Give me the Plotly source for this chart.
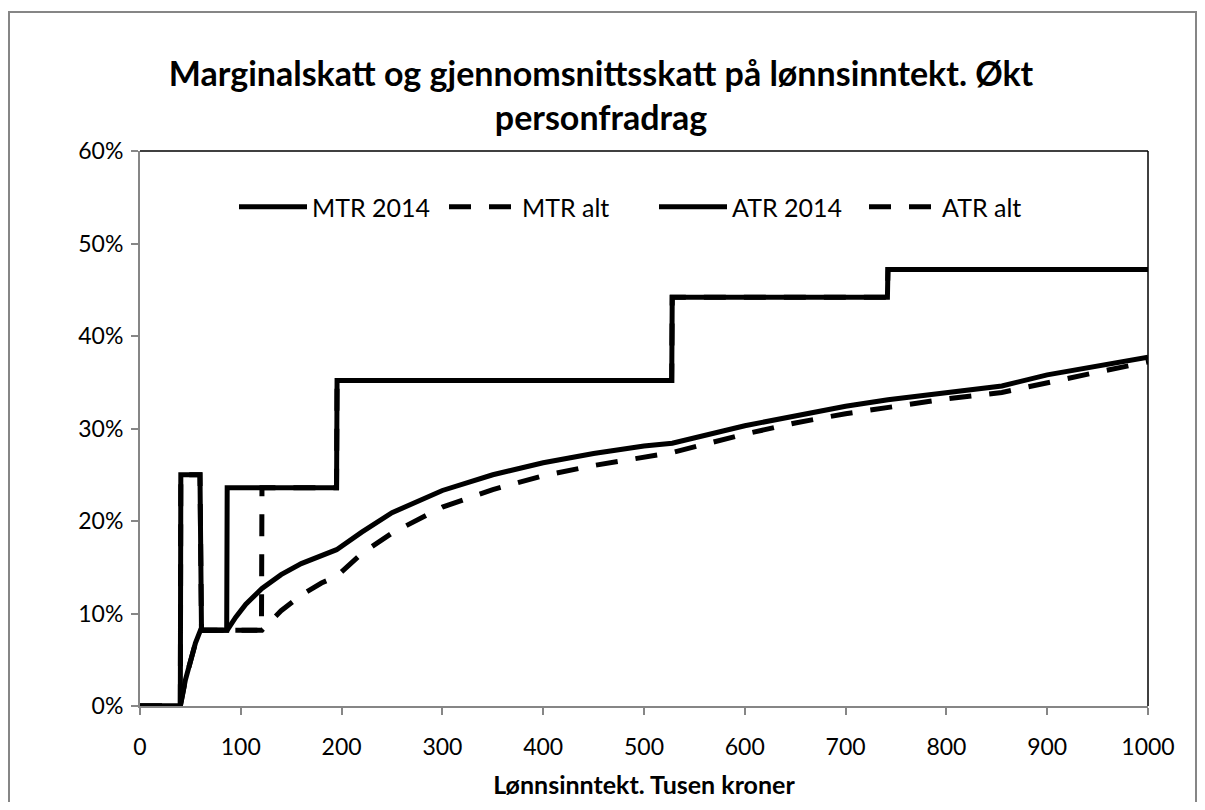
import plotly.graph_objects as go

# ---------------- data (percent) ----------------
mtr2014_x = [0, 40, 40.5, 59.5, 61, 86, 86.5, 195, 195.5, 527.5, 528, 741.5, 742, 1000]
mtr2014_y = [0, 0, 25.0, 25.0, 8.2, 8.2, 23.6, 23.6, 35.2, 35.2, 44.2, 44.2, 47.2, 47.2]

mtralt_x = [0, 40, 40.5, 59.5, 61, 120.5, 121, 195, 195.5, 527.5, 528, 741.5, 742, 1000]
mtralt_y = [0, 0, 25.0, 25.0, 8.2, 8.2, 23.6, 23.6, 35.2, 35.2, 44.2, 44.2, 47.2, 47.2]

atr2014_x = [0, 40, 45, 50, 55, 60, 86.5, 95, 105, 121, 140, 160, 180, 195, 220, 250, 300,
             350, 400, 450, 500, 528, 600, 650, 700, 742, 800, 855, 900, 950, 1000]
atr2014_y = [0, 0, 2.8, 5.0, 6.8, 8.2, 8.2, 9.6, 11.0, 12.7, 14.2, 15.4, 16.3, 16.9, 18.8, 20.9, 23.3,
             25.0, 26.3, 27.3, 28.1, 28.4, 30.3, 31.4, 32.4, 33.1, 33.9, 34.6, 35.8, 36.8, 37.7]

atralt_x = [0, 40, 45, 50, 55, 60, 121, 130, 140, 160, 180, 195, 220, 250, 300, 350, 400,
            450, 500, 528, 600, 650, 700, 742, 800, 855, 900, 950, 1000]
atralt_y = [0, 0, 2.8, 5.0, 6.8, 8.2, 8.2, 9.2, 10.3, 12.0, 13.3, 14.0, 16.5, 18.7, 21.5, 23.4, 24.9,
            26.0, 26.9, 27.4, 29.4, 30.6, 31.6, 32.3, 33.2, 33.9, 35.0, 36.1, 37.2]

series_names = ["MTR 2014", "MTR alt", "ATR 2014", "ATR alt"]
x_ticks = [0, 100, 200, 300, 400, 500, 600, 700, 800, 900, 1000]
y_ticks = [0, 10, 20, 30, 40, 50, 60]
title_text = "<b>Marginalskatt og gjennomsnittsskatt på lønnsinntekt. Økt<br>personfradrag</b>"
x_title = "<b>Lønnsinntekt. Tusen kroner</b>"

FONT = "Lato"
DASH = "22px,18px"
LW = 5

# figure size fits inside the window minus the page's 8px body margin
W, H = 1189, 794
L, R, T, B = 132, 49, 143, 96
PW, PH = W - L - R, H - T - B

fig = go.Figure()
data = [
    (mtralt_x, mtralt_y, series_names[1], DASH),
    (atralt_x, atralt_y, series_names[3], DASH),
    (mtr2014_x, mtr2014_y, series_names[0], "solid"),
    (atr2014_x, atr2014_y, series_names[2], "solid"),
]
order = {n: i for i, n in enumerate(series_names)}
for xs, ys, name, dash in data:
    fig.add_trace(go.Scatter(
        x=xs, y=[v / 100 for v in ys], mode="lines", name=name,
        line=dict(color="black", width=LW, dash=dash),
        legendrank=order[name] + 1, hoverinfo="skip"))

fig.update_layout(
    width=W, height=H,
    margin=dict(l=L, r=R, t=T, b=B, pad=0, autoexpand=False),
    paper_bgcolor="white", plot_bgcolor="white",
    font=dict(family=FONT, color="black", size=23),
    title=dict(text=title_text, x=(601 - 8) / W, xanchor="center", y=1 - 78 / H, yanchor="middle",
               font=dict(family=FONT, size=34, color="black"), automargin=False),
    showlegend=True,
    legend=dict(orientation="h", x=(654 - 8 - L) / PW, xanchor="center", y=(698 - 199) / PH,
                yanchor="middle",
                font=dict(family=FONT, size=25, color="black"),
                bgcolor="rgba(0,0,0,0)", entrywidth=127, entrywidthmode="pixels",
                itemwidth=68, traceorder="normal"),
    xaxis=dict(range=[0, 1000], tickvals=x_ticks, ticktext=[str(v) for v in x_ticks],
               showgrid=False, zeroline=False, showline=True, linecolor="#868686", linewidth=2,
               ticks="outside", ticklen=7, tickwidth=1.5, tickcolor="#868686",
               tickfont=dict(family=FONT, size=23, color="black"), ticklabelstandoff=12,
               title=dict(text=x_title, font=dict(family=FONT, size=25, color="black"), standoff=18),
               layer="below traces", automargin=False),
    yaxis=dict(range=[0, 0.6], tickvals=[v / 100 for v in y_ticks],
               ticktext=[f"{v}%" for v in y_ticks],
               showgrid=False, zeroline=False, showline=True, linecolor="#868686", linewidth=2,
               ticks="outside", ticklen=7, tickwidth=1.5, tickcolor="#868686",
               tickfont=dict(family=FONT, size=23, color="black"), ticklabelstandoff=3,
               layer="below traces", automargin=False),
)

# plot area border (top and right) in black
fig.add_shape(type="line", xref="x domain", yref="y domain", x0=0, x1=1, y0=1, y1=1,
              line=dict(color="black", width=1.5))
fig.add_shape(type="line", xref="x domain", yref="y domain", x0=1, x1=1, y0=0, y1=1,
              line=dict(color="black", width=1.5))
# outer chart border
fig.add_shape(type="rect", xref="paper", yref="paper",
              x0=(1 - L) / PW, x1=(W - 1 - L) / PW,
              y0=-(B + 10) / PH, y1=(PH + T - 4) / PH,
              line=dict(color="#868686", width=2), layer="below")

fig.write_html("out.html")
